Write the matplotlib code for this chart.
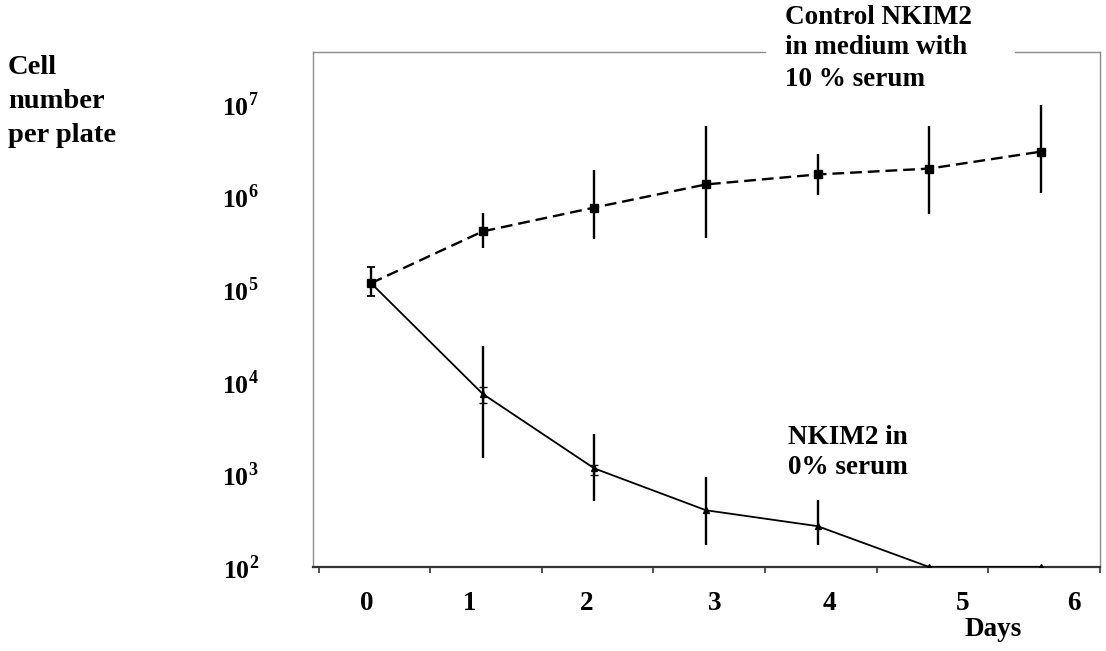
import numpy as np
import matplotlib.pyplot as plt

days = [0, 1, 2, 3, 4, 5, 6]

# control NKIM2, 10 % serum
ctrl = [1.16e5, 4.2e5, 7.6e5, 1.35e6, 1.73e6, 2.0e6, 3.05e6]
ctrl_lo = [8.4e4, 2.76e5, 3.5e5, 3.6e5, 1.05e6, 6.4e5, 1.08e6]
ctrl_hi = [1.73e5, 6.6e5, 1.95e6, 5.8e6, 2.9e6, 5.7e6, 9.7e6]

# NKIM2, 0 % serum
starv = [1.16e5, 7.4e3, 1.16e3, 4.1e2, 2.76e2, 1.0e2, 1.0e2]
starv_lo = [1.16e5, 1.52e3, 5.1e2, 1.73e2, 1.73e2, 1.0e2, 1.0e2]
starv_hi = [1.16e5, 2.44e4, 2.76e3, 9.3e2, 5.25e2, 1.0e2, 1.0e2]
# small capped bars on day 1 and 2
inner_days = [1, 2]
inner_lo = [5.9e3, 9.8e2]
inner_hi = [8.7e3, 1.26e3]

day_labels = ['0', '1', '2', '3', '4', '5', '6']
day_label_pos = [-0.04, 0.88, 1.93, 3.08, 4.11, 5.3, 6.3]
decades = [1e2, 1e3, 1e4, 1e5, 1e6, 1e7]

plt.rcParams['font.family'] = ['Liberation Serif', 'DejaVu Serif']
plt.rcParams['font.weight'] = 'bold'
plt.rcParams['mathtext.fontset'] = 'custom'
plt.rcParams['mathtext.rm'] = 'Liberation Serif:bold'
plt.rcParams['mathtext.bf'] = 'Liberation Serif:bold'

W, H = 1106, 651
fig = plt.figure(figsize=(W / 100, H / 100), dpi=100)
ax = fig.add_axes([313 / W, 1 - 567 / H, (1100 - 313) / W, (567 - 52) / H])

ax.set_yscale('log')
ax.set_ylim(1e2, 10 ** 7.56)
ax.set_xlim(-0.52, 6.48)


def asym(v, lo, hi):
    v = np.array(v)
    return [v - np.array(lo), np.array(hi) - v]


# control series
ax.errorbar(days[1:], ctrl[1:], yerr=asym(ctrl[1:], ctrl_lo[1:], ctrl_hi[1:]),
            fmt='none', ecolor='black', elinewidth=1.7, capsize=0, zorder=3)
ax.errorbar(days[:1], ctrl[:1], yerr=asym(ctrl[:1], ctrl_lo[:1], ctrl_hi[:1]),
            fmt='none', ecolor='black', elinewidth=1.7, capsize=3, capthick=1.3, zorder=3)
ax.plot(days, ctrl, color='black', lw=1.7, ls=(0, (5, 2.5)),
        marker='s', ms=6, zorder=4)

# 0 % serum series
ax.errorbar(days, starv, yerr=asym(starv, starv_lo, starv_hi),
            fmt='none', ecolor='black', elinewidth=1.7, capsize=0, zorder=3)
ax.errorbar(inner_days, [starv[d] for d in inner_days],
            yerr=asym([starv[d] for d in inner_days], inner_lo, inner_hi),
            fmt='none', ecolor='black', elinewidth=1.0, capsize=3, capthick=1.0, zorder=3)
ax.plot(days, starv, color='black', lw=1.3, marker='^', ms=4, zorder=4)

# frame
for s in ['left', 'right']:
    ax.spines[s].set_color('#8c8c8c')
    ax.spines[s].set_linewidth(1.0)
ax.spines['bottom'].set_color('#333333')
ax.spines['bottom'].set_linewidth(1.6)
ax.spines['top'].set_visible(False)
ax.plot([0, 0.574], [1, 1], transform=ax.transAxes, color='#8c8c8c', lw=1.0, clip_on=False)
ax.plot([0.892, 1], [1, 1], transform=ax.transAxes, color='#8c8c8c', lw=1.0, clip_on=False)

ax.set_xticks(day_label_pos, day_labels)
ax.set_xticks(np.arange(8) - 0.47, minor=True)
ax.tick_params(axis='x', which='major', length=0, pad=17, labelsize=19.5)
ax.tick_params(axis='x', which='minor', length=4, width=1.2, direction='out', color='#333333')
ax.set_yticks(decades, [r'$10^{%d}$' % int(np.log10(d)) for d in decades])
ax.yaxis.set_minor_locator(plt.NullLocator())
ax.tick_params(axis='y', length=0, pad=39, labelsize=18.5)


def ftext(x, y, s, size=19.5, **kw):
    fig.text(x / W, 1 - y / H, s, fontsize=size, fontweight='bold', va='center', **kw)


ftext(8, 67, 'Cell', size=20.5)
ftext(8, 102, 'number', size=20.5)
ftext(8, 135, 'per plate', size=20.5)
ftext(785, 17, 'Control NKIM2')
ftext(785, 48, 'in medium with')
ftext(785, 80, '10 % serum')
ftext(788, 437, 'NKIM2 in')
ftext(788, 468, '0% serum')
ftext(993, 630, 'Days', ha='center')

fig.savefig('out.png', dpi=100)
